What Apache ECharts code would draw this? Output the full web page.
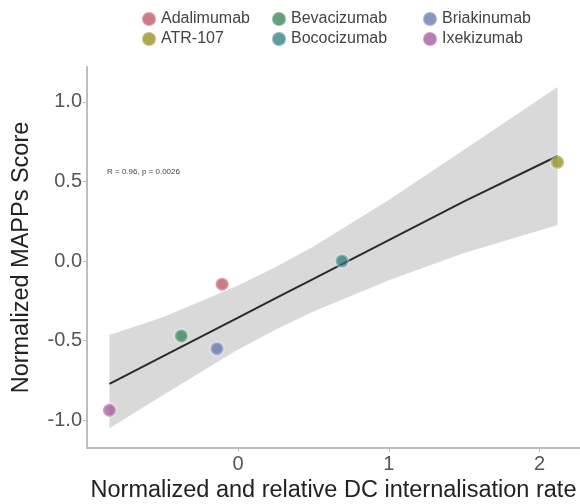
<!DOCTYPE html>
<html><head><meta charset="utf-8">
<script src="https://cdn.jsdelivr.net/npm/echarts@6/dist/echarts.min.js"></script>
<style>html,body{margin:0;padding:0;background:#fff}#c{width:580px;height:504px}</style>
</head><body><div id="c"></div>
<script>
const drugs = ['Adalimumab','ATR-107','Bevacizumab','Bococizumab','Briakinumab','Ixekizumab'];
const drugColors = ['#b8525e','#8f8c1e','#2f8050','#2a7c7c','#5f74b0','#a4509a'];
const dcRate = [-0.106, 2.12, -0.377, 0.69, -0.14, -0.854];
const mappsScore = [-0.145, 0.62, -0.47, 0.0, -0.55, -0.937];
const bandX  = [-0.854, -0.5, 0, 0.25, 0.5, 1.0, 1.5, 2.12];
const fitY   = [-0.771, -0.598, -0.355, -0.233, -0.112, 0.132, 0.375, 0.66];
const bandLo = [-1.05, -0.843, -0.556, -0.429, -0.316, -0.12, 0.05, 0.226];
const bandHi = [-0.465, -0.353, -0.154, -0.037, 0.092, 0.384, 0.70, 1.094];
const xTicks = [0, 1, 2];
const yTicks = [-1, -0.5, 0, 0.5, 1];
const annotation = 'R = 0.96, p = 0.0026';

const chart = echarts.init(document.getElementById('c'));
const font = 'Liberation Sans, Arial, sans-serif';
const series = [];
series.push({
  type: 'custom', name: 'band', silent: true, z: 1,
  data: [0],
  renderItem: function (params, api) {
    const pts = [];
    for (let i = 0; i < bandX.length; i++) pts.push(api.coord([bandX[i], bandHi[i]]));
    for (let i = bandX.length - 1; i >= 0; i--) pts.push(api.coord([bandX[i], bandLo[i]]));
    return { type: 'polygon', shape: { points: pts }, style: { fill: '#d9d9d9' } };
  }
});
series.push({
  type: 'line', name: 'fit', silent: true, z: 3, symbol: 'none',
  data: bandX.map((x, i) => [x, fitY[i]]),
  lineStyle: { color: '#2b2b2b', width: 2 }
});
drugs.forEach((d, i) => {
  series.push({
    type: 'scatter', name: d, z: 4,
    data: [[dcRate[i], mappsScore[i]]],
    symbolSize: 13,
    itemStyle: { color: drugColors[i], opacity: 0.75, borderColor: 'rgba(255,255,255,0.35)', borderWidth: 3 }
  });
});
const legendBase = {
  orient: 'vertical', top: 6, itemWidth: 14, itemHeight: 14, itemGap: 4,
  icon: 'circle',
  textStyle: { fontFamily: font, fontSize: 16, color: '#444' }
};
chart.setOption({
  animation: false,
  color: drugColors,
  legend: [
    Object.assign({}, legendBase, { left: 136, data: ['Adalimumab', 'ATR-107'] }),
    Object.assign({}, legendBase, { left: 266, data: ['Bevacizumab', 'Bococizumab'] }),
    Object.assign({}, legendBase, { left: 417, data: ['Briakinumab', 'Ixekizumab'] })
  ],
  grid: { left: 87, right: 0, top: 67, bottom: 56, outerBoundsMode: 'none', containLabel: false },
  xAxis: {
    type: 'value', min: -1.003, max: 2.269,
    name: 'Normalized and relative DC internalisation rate',
    nameLocation: 'middle', nameGap: 29,
    nameTextStyle: { fontFamily: font, fontSize: 23.5, color: '#222' },
    splitLine: { show: false },
    axisLine: { onZero: false, lineStyle: { color: '#bdbdbd', width: 2 } },
    axisTick: { customValues: xTicks, length: 4, lineStyle: { color: '#bdbdbd' } },
    axisLabel: { customValues: xTicks, fontFamily: font, fontSize: 20, color: '#555', margin: 6 }
  },
  yAxis: {
    type: 'value', min: -1.174, max: 1.219,
    name: 'Normalized MAPPs Score',
    nameLocation: 'middle', nameGap: 53, nameRotate: 90,
    nameTextStyle: { fontFamily: font, fontSize: 23.5, color: '#222' },
    splitLine: { show: false },
    axisLine: { show: true, onZero: false, lineStyle: { color: '#bdbdbd', width: 2 } },
    axisTick: { show: true, customValues: yTicks, length: 4, lineStyle: { color: '#bdbdbd' } },
    axisLabel: { customValues: yTicks, fontFamily: font, fontSize: 20, color: '#555', margin: 5,
      formatter: v => v.toFixed(1) }
  },
  graphic: [{
    type: 'text', left: 107, top: 168,
    style: { text: annotation, font: '8px ' + font, fill: '#444' }
  }],
  series: series
});
</script></body></html>
